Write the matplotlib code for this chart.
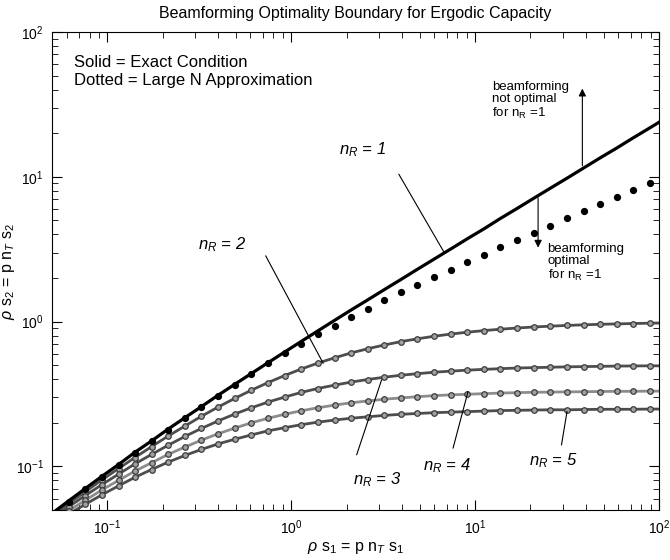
#%% Librerias
import matplotlib
matplotlib.use('Agg')
import matplotlib.pyplot as plt

plt.rcParams['font.family'] = ['Liberation Sans', 'DejaVu Sans']
plt.rcParams['mathtext.fontset'] = 'custom'
plt.rcParams['mathtext.rm'] = 'Liberation Sans'
plt.rcParams['mathtext.it'] = 'Liberation Sans:italic'

#%% Datos
# rho*s1 en los puntos marcados
s1 = [0.05, 0.0616, 0.0758, 0.0933, 0.115, 0.141, 0.174, 0.214, 0.264, 0.325,
      0.4, 0.493, 0.607, 0.747, 0.92, 1.13, 1.39, 1.72, 2.11, 2.6,
      3.2, 3.94, 4.86, 5.98, 7.36, 9.06, 11.2, 13.7, 16.9, 20.8,
      25.6, 31.6, 38.9, 47.8, 58.9, 72.5, 89.3]
s1_line = s1 + [100.0]

# nR = 1, condicion exacta (linea gruesa)
nr1_exact = [0.0474, 0.0578, 0.0703, 0.0853, 0.103, 0.125, 0.15, 0.181, 0.217, 0.259,
             0.31, 0.369, 0.438, 0.52, 0.616, 0.728, 0.86, 1.02, 1.2, 1.41,
             1.66, 1.95, 2.3, 2.7, 3.17, 3.73, 4.38, 5.15, 6.04, 7.1,
             8.33, 9.78, 11.5, 13.5, 15.8, 18.6, 21.8, 23.8]
# nR = 1, aproximacion para N grande (puntos)
nr1_approx = [0.047, 0.0572, 0.0696, 0.0845, 0.102, 0.124, 0.149, 0.179, 0.215, 0.256,
              0.307, 0.365, 0.434, 0.514, 0.606, 0.706, 0.815, 0.938, 1.07, 1.23,
              1.4, 1.59, 1.8, 2.03, 2.29, 2.58, 2.9, 3.26, 3.66, 4.11,
              4.61, 5.17, 5.8, 6.49, 7.27, 8.15, 9.12]
nr2 = [0.0458, 0.0554, 0.0669, 0.0806, 0.0966, 0.115, 0.137, 0.162, 0.19, 0.222,
       0.257, 0.295, 0.336, 0.379, 0.424, 0.47, 0.516, 0.562, 0.607, 0.649,
       0.689, 0.727, 0.761, 0.792, 0.82, 0.845, 0.867, 0.886, 0.903, 0.918,
       0.93, 0.941, 0.95, 0.958, 0.964, 0.97, 0.975, 0.977]
nr3 = [0.0438, 0.0526, 0.0629, 0.0748, 0.0884, 0.104, 0.121, 0.14, 0.161, 0.183,
       0.206, 0.23, 0.254, 0.278, 0.301, 0.324, 0.345, 0.364, 0.382, 0.398,
       0.413, 0.426, 0.437, 0.447, 0.455, 0.462, 0.468, 0.473, 0.478, 0.481,
       0.484, 0.487, 0.489, 0.491, 0.493, 0.494, 0.495, 0.495]
nr4 = [0.0415, 0.0494, 0.0584, 0.0687, 0.0801, 0.0927, 0.106, 0.121, 0.136, 0.152,
       0.168, 0.184, 0.2, 0.215, 0.229, 0.242, 0.254, 0.265, 0.275, 0.283,
       0.291, 0.297, 0.303, 0.308, 0.312, 0.315, 0.318, 0.321, 0.323, 0.325,
       0.326, 0.327, 0.328, 0.329, 0.33, 0.33, 0.331, 0.331]
nr5 = [0.0396, 0.0467, 0.0547, 0.0636, 0.0734, 0.084, 0.0952, 0.107, 0.119, 0.131,
       0.143, 0.154, 0.165, 0.176, 0.185, 0.194, 0.202, 0.209, 0.215, 0.22,
       0.225, 0.229, 0.232, 0.235, 0.237, 0.239, 0.241, 0.243, 0.244, 0.245,
       0.246, 0.246, 0.247, 0.248, 0.248, 0.248, 0.249, 0.249]

curves = [nr2, nr3, nr4, nr5]
curve_colors = ['#4d4d4d', '#4d4d4d', '#8c8c8c', '#4d4d4d']

#%% Figura
fig = plt.figure(figsize=(6.7, 5.6), dpi=100)
ax = fig.add_axes([52/670, 1 - 510/560, 607/670, 478/560])
ax.set_xscale('log')
ax.set_yscale('log')
ax.set_xlim(0.05, 100)
ax.set_ylim(0.05, 100)

for c, col in zip(curves, curve_colors):
    ax.plot(s1_line, c, color=col, lw=2.0, zorder=2)
    ax.plot(s1, c[:-1], 'o', ms=4, mfc='#a0a0a0', mec='#3c3c3c', mew=0.9, zorder=3)
ax.plot(s1_line, nr1_exact, color='black', lw=2.3, zorder=4)
ax.plot(s1, nr1_approx, 'o', ms=4.2, color='black', zorder=4)

ax.tick_params(which='both', direction='in', top=True, right=True, labelsize=10, pad=6)
ax.tick_params(which='major', length=7)
ax.tick_params(which='minor', length=4)

ax.set_title('Beamforming Optimality Boundary for Ergodic Capacity', fontsize=11.5, pad=10)
ax.set_xlabel(r'$\rho$ s$_1$ = p n$_T$ s$_1$', fontsize=11.5)
ax.set_ylabel(r'$\rho$ s$_2$ = p n$_T$ s$_2$', fontsize=11.5)
ax.xaxis.set_label_coords(0.5, -0.062)
ax.yaxis.set_label_coords(-0.057, 0.5)

#%% Textos
ax.text(0.036, 0.936, 'Solid = Exact Condition', transform=ax.transAxes,
        fontsize=12, va='center')
ax.text(0.036, 0.899, 'Dotted = Large N Approximation', transform=ax.transAxes,
        fontsize=12, va='center')

# etiquetas nR con sus lineas guia
labels = [(r'$n_R$ = 1', 2.45, 15.3, (3.85, 6.75), (10.4, 3.04)),
          (r'$n_R$ = 2', 0.419, 3.38, (0.727, 1.49), (2.84, 0.517)),
          (r'$n_R$ = 3', 2.92, 0.081, (2.27, 3.1), (0.1205, 0.396)),
          (r'$n_R$ = 4', 7.01, 0.101, (7.59, 9.15), (0.134, 0.329)),
          (r'$n_R$ = 5', 26.7, 0.1095, (29.5, 31.6), (0.141, 0.239))]
for txt, tx, ty, lx, ly in labels:
    ax.text(tx, ty, txt, fontsize=12, style='italic', ha='center', va='center')
    ax.plot(lx, ly, color='black', lw=0.8, zorder=5)

# flechas de las regiones
ax.annotate('', xy=(38.3, 42.5), xytext=(38.3, 11.4),
            arrowprops=dict(arrowstyle='-|>', color='black', lw=0.8, mutation_scale=11))
ax.annotate('', xy=(22.0, 3.1), xytext=(22.0, 7.48),
            arrowprops=dict(arrowstyle='-|>', color='black', lw=0.8, mutation_scale=11))
ax.text(12.4, 46, 'beamforming\nnot optimal\nfor n$_\\mathrm{R}$ =1', fontsize=9.5,
        va='top', ha='left', linespacing=1.05)
ax.text(24.8, 3.5, 'beamforming\noptimal\nfor n$_\\mathrm{R}$ =1', fontsize=9.5,
        va='top', ha='left', linespacing=1.05)

fig.savefig('out.png', dpi=100)
